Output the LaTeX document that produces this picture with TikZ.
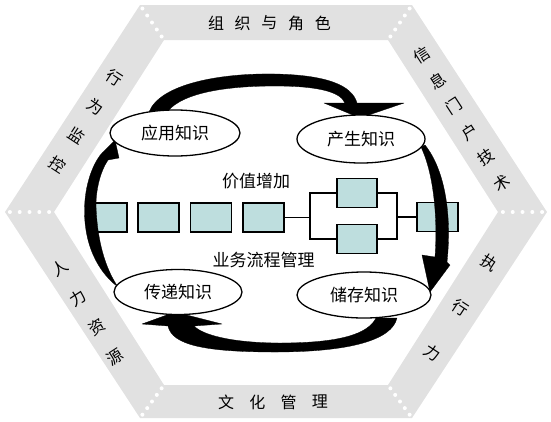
\documentclass[tikz,border=0pt]{standalone}
\usepackage{fontspec}
\newfontfamily\cjk{Noto Sans CJK SC}
\usetikzlibrary{shapes.geometric}
\definecolor{bandgray}{RGB}{225,225,225}
\definecolor{boxteal}{RGB}{190,222,222}
\begin{document}
\begin{tikzpicture}[x=1pt,y=-1pt,
  pbox/.style={draw=black,line width=1.3pt,fill=boxteal,minimum width=41pt,minimum height=29pt,inner sep=0pt},
  know/.style={ellipse,draw=black,line width=1.3pt,fill=white,inner sep=0pt,font=\cjk\fontsize{17}{17}\selectfont},
  lbl/.style={font=\cjk\fontsize{17}{17}\selectfont,inner sep=0pt},
  bandch/.style={font=\cjk\fontsize{16}{16}\selectfont,inner sep=0pt},
  link/.style={line width=1.3pt,draw=black},
  bigarrow/.style={fill=black,draw=black,line width=0.3pt,line join=round}]
\useasboundingbox (0,0) rectangle (551,421);
% hexagonal band
\fill[bandgray,even odd rule] (5,212) -- (140,5) -- (412,5) -- (547,212) -- (412,418) -- (140,418) -- cycle
  (54,212) -- (164,40) -- (388,40) -- (498,212) -- (388,385) -- (164,385) -- cycle;
\foreach \ox/\oy/\ix/\iy in {5/212/54/212, 140/5/164/40, 412/5/388/40, 547/212/498/212, 412/418/388/385, 140/418/164/385}{
  \foreach \t in {0.1,0.3,0.5,0.7,0.9}
    \fill[white] ({\ox+\t*(\ix-\ox)},{\oy+\t*(\iy-\oy)}) circle (2pt);
}
% band texts
\foreach \c [count=\i] in {组,织,与,角,色}
  \node[bandch] (top\i) at ({216+(\i-1)*26.7},23) {\c};
\foreach \c [count=\i] in {文,化,管,理}
  \node[bandch] (bot\i) at ({226+(\i-1)*31.3},402) {\c};
\foreach \c [count=\i] in {行,为,监,控}
  \node[bandch,rotate=-33] (ul\i) at ({115-(\i-1)*19.3},{78+(\i-1)*29}) {\c};
\foreach \c [count=\i] in {信,息,门,户,技,术}
  \node[bandch,rotate=33] (ur\i) at ({422+(\i-1)*16},{55+(\i-1)*25.6}) {\c};
\foreach \c [count=\i] in {人,力,资,源}
  \node[bandch,rotate=33] (ll\i) at ({60+(\i-1)*18.3},{268+(\i-1)*29.7}) {\c};
\foreach \c [count=\i] in {执,行,力}
  \node[bandch,rotate=-33] (lr\i) at ({490-(\i-1)*29},{263+(\i-1)*45}) {\c};
% process boxes
\node[pbox,minimum width=36pt] (b1) at (109,217.5) {};
\node[pbox] (b2) at (158.5,217.5) {};
\node[pbox] (b3) at (211,217.5) {};
\node[pbox] (b4) at (263.5,217.5) {};
\node[pbox,minimum width=40pt] (b5) at (357,193) {};
\node[pbox,minimum width=40pt] (b6) at (357,239) {};
\node[pbox] (b7) at (437.5,217) {};
\coordinate (s1) at (310,217.5);
\coordinate (j1) at (397,217);
\draw[link] (b4.east) -- (s1);
\draw[link] (b5.west) -| (s1);
\draw[link] (b6.west) -| (s1);
\draw[link] (b5.east) -| (j1);
\draw[link] (b6.east) -| (j1);
\draw[link] (j1) -- (b7.west);
% big curved arrows
\path[bigarrow] (149,112) .. controls (160,84) and (220,73) .. (275,74) .. controls (326,75) and (352,85) .. (357,103)
  -- (404,103) -- (360,118) -- (324,103) -- (345,103)
  .. controls (340,91) and (315,86) .. (275,86) .. controls (225,86) and (183,93) .. (168,111) -- cycle;
\path[bigarrow] (421,147) .. controls (433,172) and (438,215) .. (435,257) -- (422,255) -- (430,292) -- (450,265) -- (447,262)
  .. controls (452,215) and (445,170) .. (425,145) -- cycle;
\path[bigarrow] (397,318) .. controls (392,340) and (350,352) .. (275,352) .. controls (205,352) and (172,345) .. (168,326)
  -- (142,324) -- (175,312) -- (222,324) -- (194,326)
  .. controls (205,337) and (240,343) .. (280,343) .. controls (340,343) and (368,334) .. (376,318) -- cycle;
\path[bigarrow] (118,287) .. controls (93,268) and (82,235) .. (85,200) .. controls (87,178) and (95,160) .. (103,152)
  -- (115,140) -- (119,158) -- (108,160)
  .. controls (100,172) and (96,190) .. (96,205) .. controls (97,240) and (105,268) .. (118,287) -- cycle;
% knowledge ellipses
\node[know,minimum width=130pt,minimum height=46pt] (apply) at (175,133) {应用知识};
\node[know,minimum width=128pt,minimum height=48pt] (produce) at (361,139) {产生知识};
\node[know,minimum width=128pt,minimum height=45pt] (transfer) at (178,292) {传递知识};
\node[know,minimum width=134pt,minimum height=46pt] (store) at (364,295) {储存知识};
% labels
\node[lbl] (vadd) at (256,181) {价值增加};
\node[lbl] (bpm) at (263.5,260) {业务流程管理};
\end{tikzpicture}
\end{document}
